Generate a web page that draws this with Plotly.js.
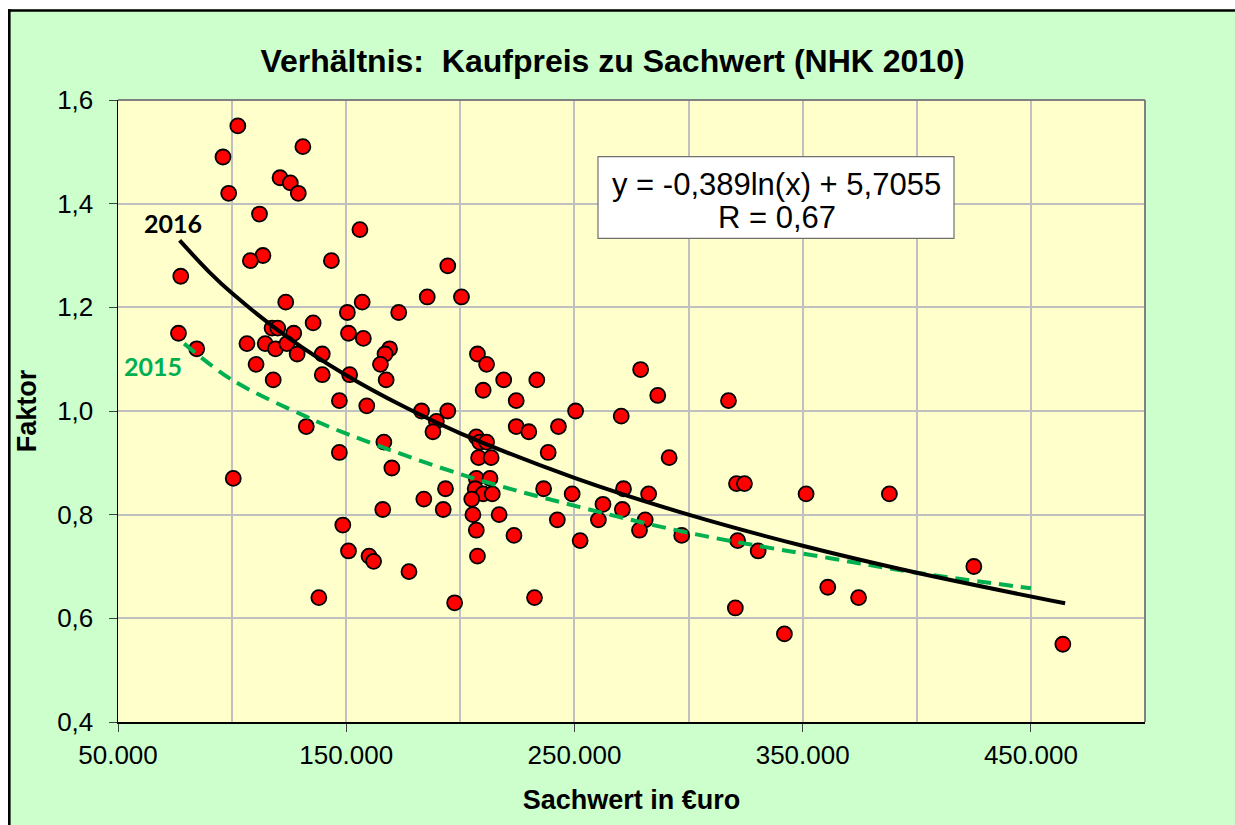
<!DOCTYPE html>
<html>
<head>
<meta charset="utf-8">
<script src="https://cdn.plot.ly/plotly-3.0.1.min.js"></script>
<style>
  html, body { margin: 0; padding: 0; background: #ffffff; }
  #chart { width: 1235px; height: 825px; }
</style>
</head>
<body>
<div id="chart"></div>
<script>
// ---- data ----
const sachwert = [
  102500, 96000, 131000, 121000, 125500, 129000, 98500, 112000, 113500, 108000,
  143500, 77500, 123500, 135500, 150500, 117500, 120000, 127000, 76500, 151000,
  84500, 106500, 114500, 119000, 124000, 128500, 110500, 118000, 139500, 139500,
  151500, 147000, 132500, 147000, 100500, 148500, 151000, 138000,
  156000, 194500, 185500, 200500, 157000, 173000, 157500, 169000, 167000, 165000,
  207500, 211500, 167500, 219000, 233500, 210000, 224500, 159000, 183000, 194500,
  250500, 189500,
  188000, 224500, 230000, 243000, 166500, 238500, 170000, 193500, 184000, 236500,
  249000, 192500, 166000, 242500, 223500, 252500, 160000, 162000, 177500, 197500,
  232500, 217000,
  207000, 208500, 211500, 208000, 213500, 207000, 213000, 206500, 210000, 214000,
  205000, 205500, 207000, 207500,
  279000, 286500, 317500, 270500, 291500, 321000, 324500, 351500, 271500, 282500,
  262500, 271000, 260500, 281000, 278500, 297000, 321500, 330500, 361000, 320500,
  388000, 374500, 425000, 464000, 342000
];
const faktor = [
  1.55, 1.49, 1.51, 1.45, 1.44, 1.42, 1.42, 1.38, 1.30, 1.29,
  1.29, 1.26, 1.21, 1.17, 1.19, 1.16, 1.16, 1.15, 1.15, 1.15,
  1.12, 1.13, 1.13, 1.12, 1.13, 1.11, 1.09, 1.06, 1.11, 1.07,
  1.07, 1.02, 0.97, 0.92, 0.87, 0.78, 0.73, 0.64,
  1.35, 1.28, 1.22, 1.22, 1.21, 1.19, 1.14, 1.12, 1.11, 1.09,
  1.11, 1.09, 1.06, 1.06, 1.06, 1.04, 1.02, 1.01, 1.00, 1.00,
  1.00, 0.98,
  0.96, 0.97, 0.96, 0.97, 0.94, 0.92, 0.89, 0.85, 0.83, 0.85,
  0.84, 0.81, 0.81, 0.79, 0.76, 0.75, 0.72, 0.71, 0.69, 0.63,
  0.64, 0.80,
  0.95, 0.94, 0.94, 0.91, 0.91, 0.87, 0.87, 0.85, 0.84, 0.84,
  0.83, 0.80, 0.77, 0.72,
  1.08, 1.03, 1.02, 0.99, 0.91, 0.86, 0.86, 0.84, 0.85, 0.84,
  0.82, 0.81, 0.79, 0.79, 0.77, 0.76, 0.75, 0.73, 0.66, 0.62,
  0.84, 0.64, 0.70, 0.55, 0.57
];
// trend line 2016 (black, solid)
const trend2016X = [77000, 90000, 100000, 125000, 150000, 175000, 200000, 250000, 300000, 350000, 400000, 465000];
const trend2016Y = [1.329, 1.268, 1.227, 1.140, 1.069, 1.009, 0.957, 0.871, 0.800, 0.740, 0.688, 0.629];
// trend line 2015 (green, dashed)
const trend2015X = [79000, 100000, 132000, 152000, 203000, 252000, 300000, 362000, 400000, 450000];
const trend2015Y = [1.130, 1.060, 0.990, 0.953, 0.874, 0.815, 0.765, 0.716, 0.688, 0.658];

const chartTitle = 'Verhältnis:\u00A0 Kaufpreis zu Sachwert (NHK 2010)';
const xTitle = 'Sachwert in €uro';
const yTitle = 'Faktor';
const equationLine1 = 'y = -0,389ln(x) + 5,7055';
const equationLine2 = 'R = 0,67';
const label2016 = '2016';
const label2015 = '2015';

// ---- styling ----
const FONT = 'Liberation Sans, Arial, sans-serif';
const LABELFONT = 'Lato, Open Sans, sans-serif';
const GRID = '#C0C0C0';

const traces = [
  {
    type: 'scatter', mode: 'markers', x: sachwert, y: faktor, name: 'Daten',
    marker: { color: '#FF0000', size: 15, line: { color: '#000000', width: 1.8 } },
    hoverinfo: 'x+y'
  },
  {
    type: 'scatter', mode: 'lines', x: trend2015X, y: trend2015Y, name: label2015,
    line: { color: '#00B050', width: 4, dash: '14px,8px', shape: 'spline' }
  },
  {
    type: 'scatter', mode: 'lines', x: trend2016X, y: trend2016Y, name: label2016,
    line: { color: '#000000', width: 4, shape: 'spline' }
  }
];

const L = 118, R = 90, T = 100, B = 103, W = 1235, H = 825;
const pw = W - L - R, ph = H - T - B;
const px2paperX = p => (p - L) / pw;
const py2paperY = p => (H - B - p) / ph;

const layout = {
  width: W, height: H,
  margin: { l: L, r: R, t: T, b: B, pad: 0 },
  paper_bgcolor: '#CCFFCC',
  plot_bgcolor: '#FFFFCC',
  separators: ',.',
  showlegend: false,
  font: { family: FONT, color: '#000000' },
  title: {
    text: chartTitle,
    font: { family: FONT, size: 32, weight: 'bold', color: '#000000' },
    xref: 'container', x: 612.5 / W, xanchor: 'center',
    yref: 'container', y: 1 - 61 / H, yanchor: 'middle'
  },
  xaxis: {
    range: [50000, 500000], tick0: 50000, dtick: 100000, tickformat: ',d',
    ticks: 'outside', ticklen: 8, tickcolor: '#404040', tickwidth: 1,
    showline: true, linecolor: '#000000', linewidth: 1.5,
    showgrid: true, gridcolor: GRID, gridwidth: 2, zeroline: false,
    minor: { tick0: 50000, dtick: 50000, showgrid: true, gridcolor: GRID, gridwidth: 2, ticks: '' },
    tickfont: { family: FONT, size: 26, color: '#000000' },
    ticklabelstandoff: 1,
    title: { text: xTitle, font: { family: FONT, size: 27, weight: 'bold', color: '#000000' }, standoff: 21 },
    automargin: false, fixedrange: true
  },
  yaxis: {
    range: [0.4, 1.6], tick0: 0.4, dtick: 0.2, tickformat: '.1f',
    ticks: 'outside', ticklen: 8, tickcolor: '#404040', tickwidth: 1,
    showline: true, linecolor: '#000000', linewidth: 1.5,
    showgrid: true, gridcolor: GRID, gridwidth: 2, zeroline: false,
    tickfont: { family: FONT, size: 26, color: '#000000' },
    ticklabelstandoff: 10,
    title: { text: yTitle, font: { family: FONT, size: 27, weight: 'bold', color: '#000000' }, standoff: 12 },
    automargin: false, fixedrange: true
  },
  shapes: [
    // white outside the chart frame (left and top)
    { type: 'rect', xref: 'paper', yref: 'paper', layer: 'below',
      x0: px2paperX(-20), x1: px2paperX(8), y0: py2paperY(H + 20), y1: py2paperY(-20),
      fillcolor: '#FFFFFF', line: { width: 0 } },
    { type: 'rect', xref: 'paper', yref: 'paper', layer: 'below',
      x0: px2paperX(-20), x1: px2paperX(W + 20), y0: py2paperY(9), y1: py2paperY(-20),
      fillcolor: '#FFFFFF', line: { width: 0 } },
    // black chart frame
    { type: 'line', xref: 'paper', yref: 'paper', layer: 'below',
      x0: px2paperX(9.3), x1: px2paperX(9.3), y0: py2paperY(H + 20), y1: py2paperY(9.3),
      line: { color: '#000000', width: 2.6 } },
    { type: 'line', xref: 'paper', yref: 'paper', layer: 'below',
      x0: px2paperX(8), x1: px2paperX(W + 20), y0: py2paperY(10.5), y1: py2paperY(10.5),
      line: { color: '#000000', width: 2.6 } },
    // grey top and right border of plot area
    { type: 'line', xref: 'paper', yref: 'paper', layer: 'above',
      x0: 0, x1: 1, y0: 1, y1: 1, line: { color: '#808080', width: 2 } },
    { type: 'line', xref: 'paper', yref: 'paper', layer: 'above',
      x0: 1, x1: 1, y0: 0, y1: 1, line: { color: '#808080', width: 2 } },
    // equation box
    { type: 'rect', xref: 'paper', yref: 'paper', layer: 'above',
      x0: px2paperX(598), x1: px2paperX(954), y0: py2paperY(238.3), y1: py2paperY(156.7),
      fillcolor: '#FFFFFF', line: { color: '#707070', width: 1.2 } }
  ],
  annotations: [
    { xref: 'paper', yref: 'paper', x: px2paperX(776), y: py2paperY(184), xanchor: 'center', yanchor: 'middle',
      text: equationLine1, showarrow: false, font: { family: FONT, size: 31, color: '#000000' } },
    { xref: 'paper', yref: 'paper', x: px2paperX(776.5), y: py2paperY(217), xanchor: 'center', yanchor: 'middle',
      text: equationLine2, showarrow: false, font: { family: FONT, size: 31, color: '#000000' } },
    { xref: 'paper', yref: 'paper', x: px2paperX(172.5), y: py2paperY(223), xanchor: 'center', yanchor: 'middle',
      text: label2016, showarrow: false, font: { family: LABELFONT, size: 25, weight: 'bold', color: '#000000' } },
    { xref: 'paper', yref: 'paper', x: px2paperX(152.5), y: py2paperY(366), xanchor: 'center', yanchor: 'middle',
      text: label2015, showarrow: false, font: { family: LABELFONT, size: 25, weight: 'bold', color: '#00B050' } }
  ]
};

Plotly.newPlot('chart', traces, layout, { displayModeBar: false, staticPlot: true });
</script>
</body>
</html>
